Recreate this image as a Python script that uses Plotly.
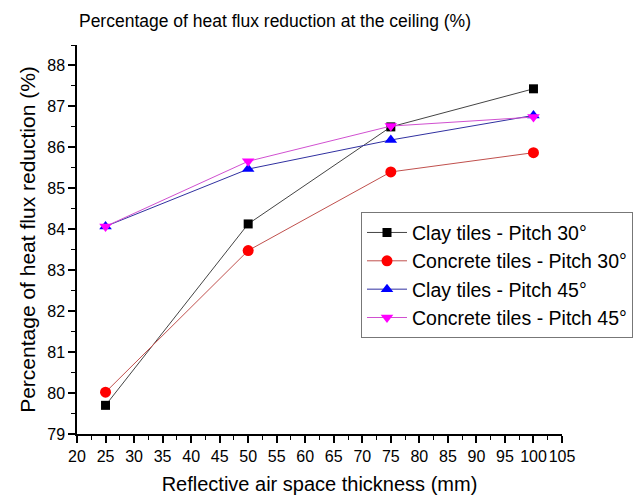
import plotly.graph_objects as go

# Air space thickness (mm)
thickness = [25, 50, 75, 100]

# Heat flux reduction at the ceiling (%)
clay_30 = [79.70, 84.13, 86.50, 87.43]
concrete_30 = [80.02, 83.48, 85.40, 85.87]
clay_45 = [84.07, 85.47, 86.18, 86.78]
concrete_45 = [84.07, 85.66, 86.52, 86.74]

series_names = [
    "Clay tiles - Pitch 30°",
    "Concrete tiles - Pitch 30°",
    "Clay tiles - Pitch 45°",
    "Concrete tiles - Pitch 45°",
]

x_ticks = list(range(20, 106, 5))
y_ticks = list(range(79, 89))

styles = [
    dict(color="black", line="#444444", symbol="square", size=9),
    dict(color="red", line="#c0504d", symbol="circle", size=11),
    dict(color="blue", line="#3030a0", symbol="triangle-up", size=11),
    dict(color="magenta", line="#d050d0", symbol="triangle-down", size=11),
]

fig = go.Figure()
for name, vals, st in zip(series_names, [clay_30, concrete_30, clay_45, concrete_45], styles):
    fig.add_trace(go.Scatter(
        x=thickness, y=vals, name=name, mode="lines+markers",
        line=dict(color=st["line"], width=1),
        marker=dict(color=st["color"], symbol=st["symbol"], size=st["size"],
                    line=dict(width=0)),
    ))

font_family = "Liberation Sans, Arial, sans-serif"

fig.update_layout(
    width=639, height=495,
    margin=dict(l=77, r=77, t=44.5, b=61, autoexpand=False),
    paper_bgcolor="white", plot_bgcolor="white",
    font=dict(family=font_family, color="black", size=16),
    title=dict(text="Percentage of heat flux reduction at the ceiling (%)",
               x=275 / 639, xanchor="center", y=1 - 21 / 495, yanchor="middle",
               font=dict(size=17.5)),
    showlegend=True,
    legend=dict(x=(361 - 77) / 485, y=(434 - 212) / 389.5, xanchor="left", yanchor="top",
                bgcolor="white", bordercolor="#777777", borderwidth=1,
                font=dict(size=19.5), itemwidth=40, tracegroupgap=0),
)

fig.update_xaxes(
    range=[20, 105], tickvals=x_ticks, ticktext=[str(v) for v in x_ticks],
    automargin=False, tickangle=0,
    showline=True, linecolor="black", linewidth=1.5, mirror=False,
    ticks="outside", ticklen=7, tickwidth=1.5, tickcolor="black",
    minor=dict(dtick=2.5, ticks="outside", ticklen=4, tickwidth=1.2, tickcolor="black"),
    showgrid=False, zeroline=False,
    tickfont=dict(size=16),
    title=dict(text="Reflective air space thickness (mm)", font=dict(size=20)),
)
fig.update_yaxes(
    range=[79, 88.5], tickvals=y_ticks, ticktext=[str(v) for v in y_ticks],
    automargin=False,
    showline=True, linecolor="black", linewidth=1.5, mirror=False,
    ticks="outside", ticklen=7, tickwidth=1.5, tickcolor="black",
    minor=dict(dtick=0.5, ticks="outside", ticklen=4, tickwidth=1.2, tickcolor="black"),
    showgrid=False, zeroline=False,
    tickfont=dict(size=16),
    title=dict(text="Percentage of heat flux reduction (%)", font=dict(size=21), standoff=6),
)

fig.write_html("out.html")
